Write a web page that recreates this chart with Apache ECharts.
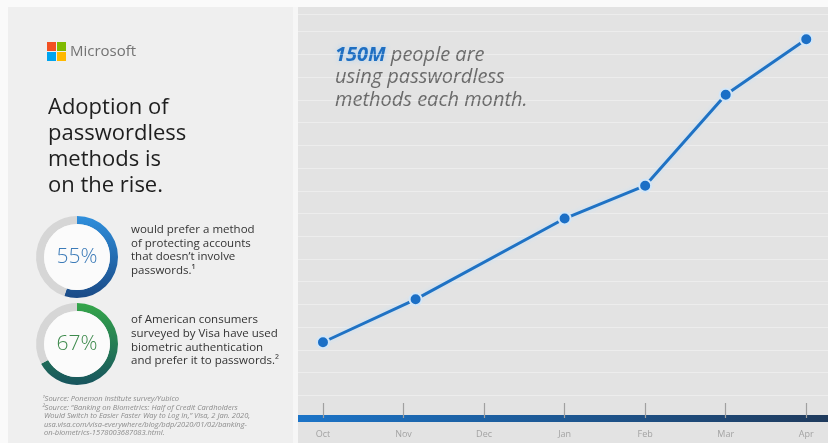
<!DOCTYPE html>
<html>
<head>
<meta charset="utf-8">
<script src="https://cdn.jsdelivr.net/npm/echarts@6/dist/echarts.min.js"></script>
<style>html,body{margin:0;padding:0;background:#fafafa;}#c{width:828px;height:443px;}</style>
</head>
<body>
<div id="c"></div>
<script>
// ---- data ----
const months = ['Oct', 'Nov', 'Dec', 'Jan', 'Feb', 'Mar', 'Apr'];
const monthPos = [0, 1, 2, 3, 4, 5, 6];
const pointMonth = [0, 1.15, 3, 4, 5, 6];
const usersM = [30, 47, 79, 92, 128, 150];
const surveyPct = [55, 67];
const surveyText = [
  'would prefer a method\nof protecting accounts\nthat doesn\u2019t involve\npasswords.\u00b9',
  'of American consumers\nsurveyed by Visa have used\nbiometric authentication\nand prefer it to passwords.\u00b2'
];
const titleText = 'Adoption of\npasswordless\nmethods is\non the rise.';
const footnotes = [
  '\u00b9Source: Ponemon Institute survey/Yubico',
  '\u00b2Source: \u201cBanking on Biometrics: Half of Credit Cardholders',
  ' Would Switch to Easier Faster Way to Log In,\u201d Visa, 2 Jan. 2020,',
  ' usa.visa.com/visa-everywhere/blog/bdp/2020/01/02/banking-',
  ' on-biometrics-1578003687083.html.'
];

const FONT = '"Open Sans", "Noto Sans", sans-serif';
const chart = echarts.init(document.getElementById('c'), null, {renderer: 'canvas'});

function lg(c1, c2, horiz) {
  return new echarts.graphic.LinearGradient(0, 0, horiz ? 1 : 0, horiz ? 0 : 1, [
    {offset: 0, color: c1}, {offset: 1, color: c2}
  ]);
}

const ringCenters = [[77, 257], [77, 344]];
const ringGrad = [['#2f8fdc', '#1a4a86'], ['#35a64a', '#17545e']];
const ringTextColor = ['#3c7bb8', '#3d8a4c'];

const pieSeries = [];
surveyPct.forEach((p, i) => {
  pieSeries.push({
    type: 'pie', silent: true, center: ringCenters[i], radius: [33, 41],
    startAngle: 90, clockwise: true, label: {show: false}, labelLine: {show: false},
    emphasis: {disabled: true}, animation: false,
    data: [
      {value: p, itemStyle: {color: lg(ringGrad[i][0], ringGrad[i][1], false)}},
      {value: 100 - p, itemStyle: {color: '#d6d6d6'}}
    ]
  });
  pieSeries.push({
    type: 'pie', silent: true, center: ringCenters[i], radius: [0, 33],
    label: {show: true, position: 'center', formatter: p + '%', fontSize: 21,
      fontFamily: FONT, color: ringTextColor[i], fontWeight: 300},
    labelLine: {show: false}, emphasis: {disabled: true}, animation: false,
    data: [{value: 1, itemStyle: {color: '#fbfbfb'}}]
  });
});

const graphics = [
  {type: 'rect', z: -10, shape: {x: 8, y: 7, width: 285, height: 436}, style: {fill: '#efefef'}},
  {type: 'rect', z: -10, shape: {x: 293, y: 7, width: 5, height: 436}, style: {fill: '#f6f6f6'}},
  {type: 'rect', z: -10, shape: {x: 298, y: 7, width: 530, height: 436}, style: {fill: '#e3e3e3'}},
  // logo
  {type: 'rect', shape: {x: 47, y: 42, width: 9, height: 9}, style: {fill: '#f25022'}},
  {type: 'rect', shape: {x: 57, y: 42, width: 9, height: 9}, style: {fill: '#7fba00'}},
  {type: 'rect', shape: {x: 47, y: 52, width: 9, height: 9}, style: {fill: '#00a4ef'}},
  {type: 'rect', shape: {x: 57, y: 52, width: 9, height: 9}, style: {fill: '#ffb900'}},
  {type: 'text', x: 70, y: 52, style: {text: 'Microsoft', fontSize: 15, fontFamily: FONT,
    fill: '#737373', verticalAlign: 'middle'}},
  {type: 'text', x: 48, y: 95, style: {text: titleText, fontSize: 22, lineHeight: 26,
    fontFamily: FONT, fill: '#1e1e1e', verticalAlign: 'top'}},
  {type: 'text', x: 131, y: 223, style: {text: surveyText[0], fontSize: 11.5, lineHeight: 13.5,
    fontFamily: FONT, fill: '#333333', verticalAlign: 'top'}},
  {type: 'text', x: 131, y: 313, style: {text: surveyText[1], fontSize: 11.5, lineHeight: 13.7,
    fontFamily: FONT, fill: '#333333', verticalAlign: 'top'}},
  {type: 'text', x: 42, y: 395, style: {text: footnotes.join('\n'), fontSize: 7.5, lineHeight: 8.4,
    fontFamily: FONT, fontStyle: 'italic', fill: '#8c8c8c', verticalAlign: 'top'}},
  {type: 'text', x: 335, y: 44, style: {
    text: '{b|150M}{n| people are}\n{n|using passwordless}\n{n|methods each month.}',
    verticalAlign: 'top',
    rich: {
      b: {fontSize: 20, fontFamily: FONT, fontStyle: 'italic', fontWeight: 'bold', fill: '#1f6fc2',
        lineHeight: 22.5, textShadowColor: 'rgba(150,205,255,0.7)', textShadowBlur: 5},
      n: {fontSize: 20, fontFamily: FONT, fontStyle: 'italic', fill: '#6a6a6a', lineHeight: 22.5}
    }
  }}
];

chart.setOption({
  animation: false,
  backgroundColor: '#fafafa',
  graphic: graphics,
  grid: {left: 298, right: 0, top: 14, bottom: 25},
  xAxis: {
    type: 'value', min: -0.31, max: 6.27,
    axisLine: {show: true, onZero: false, lineStyle: {width: 7, cap: 'butt', color: lg('#1b74c8', '#1f3a5c', true)}},
    axisTick: {show: true, inside: true, length: 15, customValues: monthPos,
      lineStyle: {color: '#a0a0a0', width: 1.2}},
    axisLabel: {customValues: monthPos, formatter: v => months[Math.round(v)],
      color: '#a3a3a3', fontSize: 9, fontFamily: FONT, margin: 12},
    splitLine: {show: false}
  },
  yAxis: {
    type: 'value', min: 0, max: 160, interval: 9,
    axisLine: {show: false}, axisTick: {show: false}, axisLabel: {show: false},
    splitLine: {show: true, lineStyle: {color: 'rgba(255,255,255,0.35)', width: 1}}
  },
  series: [{
    type: 'line', clip: false, z: 5,
    data: pointMonth.map((x, i) => [x, usersM[i]]),
    symbol: 'circle', symbolSize: 12,
    itemStyle: {color: '#1b6fc6', borderColor: '#d3e6f7', borderWidth: 2},
    lineStyle: {color: '#1f72c4', width: 3, shadowColor: 'rgba(190,225,255,0.9)', shadowBlur: 5}
  }].concat(pieSeries)
});
</script>
</body>
</html>
